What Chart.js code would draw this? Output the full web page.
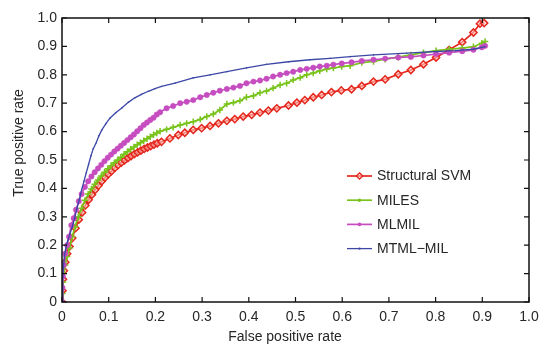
<!DOCTYPE html>
<html>
<head>
<meta charset="utf-8">
<script src="https://cdn.jsdelivr.net/npm/chart.js@4.4.0/dist/chart.umd.min.js"></script>
<style>
  html, body { margin: 0; padding: 0; background: #ffffff; }
  #wrap { width: 539px; height: 345px; position: relative; }
</style>
</head>
<body>
<div id="wrap"><canvas id="c" width="539" height="345"></canvas></div>
<script>
// ---- Data ----
const seriesNames = ['Structural SVM', 'MILES', 'MLMIL', 'MTML\u2212MIL'];
const xTickValues = [0, 0.1, 0.2, 0.3, 0.4, 0.5, 0.6, 0.7, 0.8, 0.9, 1.0];
const yTickValues = [0, 0.1, 0.2, 0.3, 0.4, 0.5, 0.6, 0.7, 0.8, 0.9, 1.0];
const xAxisTitle = 'False positive rate';
const yAxisTitle = 'True positive rate';

const fprSVM = [0, 0.001, 0.002, 0.004, 0.007, 0.011, 0.016, 0.022, 0.029, 0.036, 0.043, 0.050, 0.057, 0.064, 0.071, 0.078, 0.085, 0.092, 0.099, 0.106, 0.113, 0.120, 0.127, 0.134, 0.141, 0.148, 0.155, 0.162, 0.169, 0.176, 0.183, 0.190, 0.197, 0.204, 0.213, 0.231, 0.249, 0.263, 0.281, 0.299, 0.317, 0.335, 0.353, 0.370, 0.388, 0.406, 0.424, 0.442, 0.460, 0.485, 0.503, 0.520, 0.538, 0.556, 0.577, 0.598, 0.620, 0.642, 0.667, 0.692, 0.720, 0.747, 0.774, 0.801, 0.829, 0.857, 0.881, 0.895, 0.904];
const tprSVM = [0, 0.04, 0.08, 0.11, 0.14, 0.17, 0.195, 0.225, 0.26, 0.29, 0.315, 0.34, 0.36, 0.378, 0.395, 0.41, 0.425, 0.438, 0.45, 0.461, 0.472, 0.482, 0.491, 0.499, 0.507, 0.514, 0.521, 0.527, 0.533, 0.539, 0.544, 0.549, 0.554, 0.559, 0.564, 0.576, 0.588, 0.596, 0.606, 0.612, 0.620, 0.629, 0.638, 0.644, 0.653, 0.659, 0.667, 0.674, 0.682, 0.692, 0.702, 0.711, 0.721, 0.729, 0.739, 0.745, 0.749, 0.761, 0.776, 0.784, 0.802, 0.817, 0.837, 0.861, 0.888, 0.915, 0.949, 0.980, 0.982];

const fprMILES = [0, 0.001, 0.002, 0.004, 0.007, 0.011, 0.016, 0.022, 0.028, 0.035, 0.042, 0.049, 0.056, 0.063, 0.070, 0.077, 0.084, 0.091, 0.098, 0.105, 0.112, 0.119, 0.126, 0.133, 0.140, 0.147, 0.154, 0.161, 0.168, 0.175, 0.182, 0.189, 0.196, 0.203, 0.210, 0.224, 0.238, 0.253, 0.267, 0.281, 0.296, 0.310, 0.324, 0.338, 0.353, 0.367, 0.381, 0.395, 0.410, 0.424, 0.438, 0.452, 0.467, 0.481, 0.495, 0.510, 0.524, 0.538, 0.552, 0.567, 0.581, 0.599, 0.617, 0.642, 0.667, 0.692, 0.720, 0.747, 0.774, 0.801, 0.829, 0.857, 0.881, 0.899, 0.906];
const tprMILES = [0, 0.03, 0.07, 0.10, 0.13, 0.16, 0.19, 0.23, 0.265, 0.30, 0.33, 0.358, 0.38, 0.398, 0.415, 0.43, 0.444, 0.457, 0.469, 0.48, 0.49, 0.50, 0.51, 0.52, 0.529, 0.538, 0.546, 0.554, 0.561, 0.568, 0.575, 0.582, 0.589, 0.595, 0.601, 0.608, 0.615, 0.623, 0.629, 0.635, 0.643, 0.653, 0.662, 0.676, 0.697, 0.702, 0.709, 0.721, 0.726, 0.737, 0.743, 0.753, 0.764, 0.770, 0.782, 0.790, 0.800, 0.806, 0.814, 0.820, 0.824, 0.829, 0.832, 0.843, 0.847, 0.855, 0.862, 0.870, 0.878, 0.885, 0.890, 0.894, 0.899, 0.911, 0.917];

const fprMLMIL = [0, 0.001, 0.002, 0.004, 0.007, 0.011, 0.015, 0.020, 0.025, 0.030, 0.036, 0.042, 0.049, 0.056, 0.063, 0.070, 0.077, 0.084, 0.091, 0.098, 0.105, 0.112, 0.119, 0.126, 0.133, 0.140, 0.147, 0.154, 0.161, 0.168, 0.175, 0.182, 0.189, 0.196, 0.203, 0.210, 0.224, 0.238, 0.253, 0.267, 0.281, 0.296, 0.310, 0.324, 0.338, 0.353, 0.367, 0.381, 0.395, 0.410, 0.424, 0.438, 0.452, 0.467, 0.481, 0.495, 0.510, 0.524, 0.538, 0.552, 0.567, 0.581, 0.599, 0.620, 0.642, 0.667, 0.692, 0.720, 0.747, 0.774, 0.801, 0.829, 0.857, 0.881, 0.899, 0.906];
const tprMLMIL = [0, 0.05, 0.09, 0.13, 0.17, 0.20, 0.23, 0.27, 0.295, 0.325, 0.355, 0.38, 0.405, 0.425, 0.442, 0.457, 0.47, 0.483, 0.496, 0.508, 0.519, 0.530, 0.540, 0.55, 0.56, 0.57, 0.58, 0.59, 0.601, 0.612, 0.623, 0.632, 0.641, 0.649, 0.660, 0.668, 0.682, 0.690, 0.700, 0.705, 0.711, 0.721, 0.729, 0.737, 0.744, 0.750, 0.755, 0.761, 0.770, 0.776, 0.780, 0.786, 0.794, 0.800, 0.806, 0.811, 0.817, 0.821, 0.825, 0.829, 0.832, 0.836, 0.840, 0.844, 0.849, 0.853, 0.857, 0.861, 0.863, 0.868, 0.873, 0.878, 0.883, 0.888, 0.897, 0.902];

const fprMTML = [0, 0.001, 0.002, 0.003, 0.005, 0.008, 0.012, 0.017, 0.022, 0.027, 0.032, 0.037, 0.042, 0.047, 0.052, 0.057, 0.062, 0.067, 0.073, 0.079, 0.085, 0.094, 0.103, 0.115, 0.128, 0.142, 0.156, 0.170, 0.185, 0.199, 0.213, 0.242, 0.281, 0.317, 0.353, 0.395, 0.438, 0.485, 0.531, 0.574, 0.617, 0.667, 0.738, 0.802, 0.842, 0.881, 0.906];
const tprMTML = [0, 0.05, 0.09, 0.12, 0.16, 0.19, 0.215, 0.24, 0.265, 0.295, 0.33, 0.36, 0.395, 0.425, 0.455, 0.485, 0.515, 0.54, 0.56, 0.585, 0.605, 0.628, 0.648, 0.666, 0.683, 0.703, 0.719, 0.731, 0.742, 0.751, 0.759, 0.771, 0.789, 0.800, 0.811, 0.824, 0.837, 0.846, 0.853, 0.858, 0.864, 0.870, 0.876, 0.882, 0.885, 0.890, 0.899];

// ---- Styles ----
const FONT = '"Liberation Sans", Arial, Helvetica, sans-serif';
const TEXT = '#262626';
const colors = ['#e4261d', '#79c41c', '#c64dc0', '#3c47a6'];

function pts(xs, ys) { return xs.map((x, i) => ({ x: x, y: ys[i] })); }

const datasets = [
  { label: seriesNames[0], data: pts(fprSVM, tprSVM), borderColor: colors[0], backgroundColor: 'rgba(255,200,190,0.6)',
    pointStyle: 'rectRot', pointRadius: 3.6, pointBorderWidth: 1.5, pointBorderColor: colors[0], borderWidth: 1.7, order: 3 },
  { label: seriesNames[1], data: pts(fprMILES, tprMILES), borderColor: colors[1], backgroundColor: colors[1],
    pointStyle: 'cross', pointRadius: 3.2, pointBorderWidth: 1.5, pointBorderColor: colors[1], borderWidth: 1.7, order: 2 },
  { label: seriesNames[2], data: pts(fprMLMIL, tprMLMIL), borderColor: colors[2], backgroundColor: colors[2],
    pointStyle: 'circle', pointRadius: 2.7, pointBorderWidth: 0.5, pointBorderColor: colors[2], borderWidth: 1.7, order: 1 },
  { label: seriesNames[3], data: pts(fprMTML, tprMTML), borderColor: colors[3], backgroundColor: colors[3],
    pointStyle: 'circle', pointRadius: 0.8, pointBorderWidth: 0, borderWidth: 1.3, order: 0 }
];
datasets.forEach(d => { d.showLine = true; d.tension = 0; d.fill = false; });

// Frame, inward ticks, axis titles and legend
const framePlugin = {
  id: 'frame',
  afterDraw(chart) {
    const ctx = chart.ctx, a = chart.chartArea;
    const xs = chart.scales.x, ys = chart.scales.y;
    ctx.save();
    ctx.strokeStyle = '#111';
    ctx.lineWidth = 1.5;
    ctx.strokeRect(a.left, a.top, a.right - a.left, a.bottom - a.top);
    ctx.lineWidth = 1.2;
    const TL = 5;
    ctx.beginPath();
    xTickValues.forEach(v => {
      const p = xs.getPixelForValue(v);
      ctx.moveTo(p, a.bottom); ctx.lineTo(p, a.bottom - TL);
      ctx.moveTo(p, a.top); ctx.lineTo(p, a.top + TL);
    });
    yTickValues.forEach(v => {
      const p = ys.getPixelForValue(v);
      ctx.moveTo(a.left, p); ctx.lineTo(a.left + TL, p);
      ctx.moveTo(a.right, p); ctx.lineTo(a.right - TL, p);
    });
    ctx.stroke();

    // axis titles
    ctx.fillStyle = TEXT;
    ctx.font = '14px ' + FONT;
    ctx.textAlign = 'center';
    ctx.textBaseline = 'middle';
    ctx.fillText(xAxisTitle, 285, 337);
    ctx.save();
    ctx.translate(19, 143);
    ctx.rotate(-Math.PI / 2);
    ctx.fillText(yAxisTitle, 0, 0);
    ctx.restore();

    // legend
    const lx0 = 347, lx1 = 372, tx = 377, ly0 = 176, step = 24.2;
    chart.data.datasets.forEach((d, i) => {
      const y = ly0 + i * step;
      ctx.strokeStyle = d.borderColor;
      ctx.lineWidth = d.borderWidth;
      ctx.beginPath(); ctx.moveTo(lx0, y); ctx.lineTo(lx1, y); ctx.stroke();
      const cx = (lx0 + lx1) / 2;
      ctx.fillStyle = d.borderColor;
      if (d.pointStyle === 'rectRot') {
        ctx.fillStyle = d.backgroundColor;
        ctx.lineWidth = 1.3;
        ctx.beginPath();
        ctx.moveTo(cx, y - 3.2); ctx.lineTo(cx + 3.2, y); ctx.lineTo(cx, y + 3.2); ctx.lineTo(cx - 3.2, y); ctx.closePath();
        ctx.fill(); ctx.stroke();
      } else {
        ctx.beginPath(); ctx.arc(cx, y, i === 3 ? 1.2 : 1.8, 0, Math.PI * 2); ctx.fill();
      }
      ctx.fillStyle = TEXT;
      ctx.textAlign = 'left';
      ctx.textBaseline = 'middle';
      ctx.font = '14px ' + FONT;
      ctx.fillText(d.label, tx, y + 0.5);
    });
    ctx.restore();
  }
};

new Chart(document.getElementById('c'), {
  type: 'scatter',
  data: { datasets: datasets },
  options: {
    responsive: false,
    animation: false,
    devicePixelRatio: 1,
    layout: { padding: { top: 18, right: 10, left: 0, bottom: 0 } },
    plugins: { legend: { display: false }, tooltip: { enabled: false } },
    scales: {
      x: {
        type: 'linear', min: 0, max: 1,
        afterBuildTicks: s => { s.ticks = xTickValues.map(v => ({ value: v })); },
        afterFit: s => { s.height = 43; s.paddingLeft = 0; s.paddingRight = 0; },
        grid: { display: false, drawTicks: false },
        border: { display: false },
        ticks: { padding: 7, color: TEXT, font: { family: FONT, size: 14 }, maxRotation: 0,
          callback: v => (v === 0 ? '0' : v.toFixed(1)) }
      },
      y: {
        type: 'linear', min: 0, max: 1,
        afterBuildTicks: s => { s.ticks = yTickValues.map(v => ({ value: v })); },
        afterFit: s => { s.width = 62; s.paddingTop = 0; s.paddingBottom = 0; },
        grid: { display: false, drawTicks: false },
        border: { display: false },
        ticks: { padding: 5, color: TEXT, font: { family: FONT, size: 14 },
          callback: v => (v === 0 ? '0' : v.toFixed(1)) }
      }
    }
  },
  plugins: [framePlugin]
});
</script>
</body>
</html>
